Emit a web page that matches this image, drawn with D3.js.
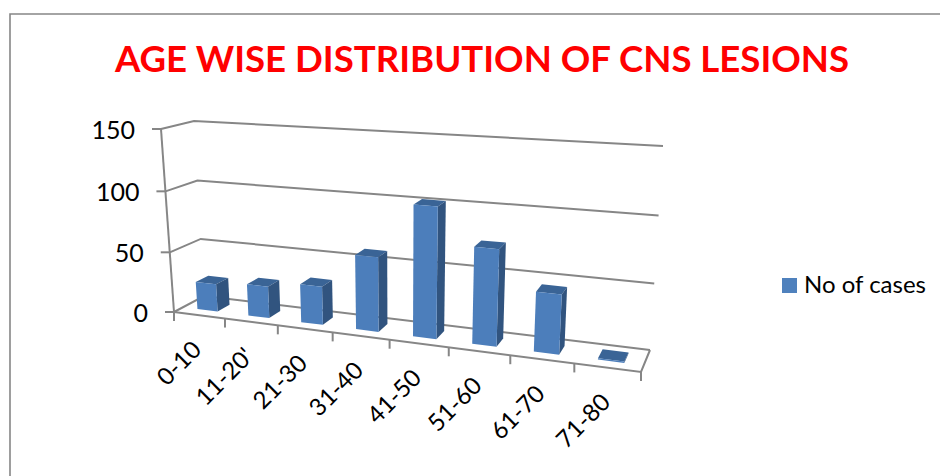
<!DOCTYPE html>
<html>
<head>
<meta charset="utf-8">
<script src="https://cdn.jsdelivr.net/npm/d3@7"></script>
<style>
	body { margin: 0; background: #fff; }
	svg { display: block; }
	text { font-family: Lato, "Open Sans", sans-serif; fill: #000; }
</style>
</head>
<body>
<svg id="chart" width="940" height="476"></svg>
<script>
// Data
const categories = ["0-10", "11-20'", "21-30", "31-40", "41-50", "51-60", "61-70", "71-80"];
const cases = [23, 26, 31, 59, 102, 74, 45, 1];
const valueTicks = [0, 50, 100, 150];
const seriesName = "No of cases";
const titleText = "AGE WISE DISTRIBUTION OF CNS LESIONS";

const svg = d3.select("#chart");

// Corners of the 3D box on screen: [left, right] for front/back at floor/top
const box = {
	frontFloor: [[174, 312], [641, 372]],
	backFloor: [[204, 296], [650, 350]],
	frontTop: [[161, 129], [655, 158]],
	backTop: [[194, 121], [663, 146]]
};
const barFront = 0.3, barBack = 0.72;

const x = d3.scaleBand().domain(categories).range([0, 1]).paddingInner(0.6).paddingOuter(0.29);
const y = d3.scaleLinear().domain([0, 150]).range([0, 1]);

// Perspective stretch, things get bigger to the right and to the top
const warp = (t, k) => t / (k - (k - 1) * t);
const mix = (a, b, t) => [a[0] + (b[0] - a[0]) * t, a[1] + (b[1] - a[1]) * t];

function project(u, depth, value){
	const t = warp(u, 1.166);
	const h = warp(y(value), 1.033);
	const floor = mix(mix(box.frontFloor[0], box.frontFloor[1], t), mix(box.backFloor[0], box.backFloor[1], t), depth);
	const top = mix(mix(box.frontTop[0], box.frontTop[1], t), mix(box.backTop[0], box.backTop[1], t), depth);
	return mix(floor, top, h);
}

const line = d3.line();
const gridColor = "#868686";

// Outer frame of the picture
svg.append("path")
	.attr("d", "M10,476V14H940")
	.attr("fill", "none")
	.attr("stroke", gridColor)
	.attr("stroke-width", 1.6);

// Title
svg.append("text")
	.attr("x", 482)
	.attr("y", 72)
	.attr("text-anchor", "middle")
	.attr("font-size", 36.6)
	.attr("font-weight", 700)
	.style("fill", "#ff0000")
	.text(titleText);

const walls = svg.append("g")
	.attr("fill", "none")
	.attr("stroke", gridColor)
	.attr("stroke-width", 2);

// Gridlines along side wall and back wall, and value tick marks
valueTicks.forEach(v => {
	walls.append("path").attr("d", line([project(0, 0, v), project(0, 1, v), project(1, 1, v)]));
	const p = project(0, 0, v);
	walls.append("path").attr("d", line([[p[0] - 9, p[1]], p]));
});

// Value axis and floor edges
walls.append("path").attr("d", line([project(0, 0, 0), project(0, 0, 150)]));
walls.append("path").attr("d", line([project(0, 0, 0), project(1, 0, 0), project(1, 1, 0)]));

// Category ticks under the front edge
d3.range(categories.length + 1).forEach(i => {
	const p = project(i / categories.length, 0, 0);
	walls.append("path").attr("d", line([p, [p[0], p[1] + 9]]));
});

// Value labels
svg.append("g").selectAll("text")
	.data(valueTicks)
	.enter().append("text")
	.attr("x", d => project(0, 0, d)[0] - 26)
	.attr("y", d => project(0, 0, d)[1] + 10)
	.attr("text-anchor", "end")
	.attr("font-size", 25)
	.text(d => d);

// Category labels
svg.append("g").selectAll("text")
	.data(categories)
	.enter().append("text")
	.attr("transform", d => {
		const p = project(x(d) + x.bandwidth() / 2, 0, 0);
		return "translate(" + (p[0] + 4) + "," + (p[1] + 36) + ") rotate(-45)";
	})
	.attr("text-anchor", "end")
	.attr("font-size", 24)
	.text(d => d);

// Bars, one polygon per visible face
const bars = svg.append("g").selectAll("g")
	.data(categories)
	.enter().append("g");

const face = (i, corners) => line(corners(x(categories[i]), x(categories[i]) + x.bandwidth(), cases[i])) + "Z";

bars.append("path")
	.attr("fill", "#3a6496")
	.attr("d", (d, i) => face(i, (a, b, v) => [project(a, barFront, v), project(b, barFront, v), project(b, barBack, v), project(a, barBack, v)]));
bars.append("path")
	.attr("fill", "#31547f")
	.attr("d", (d, i) => face(i, (a, b, v) => [project(b, barFront, 0), project(b, barBack, 0), project(b, barBack, v), project(b, barFront, v)]));
bars.append("path")
	.attr("fill", "#4c7ebb")
	.attr("d", (d, i) => face(i, (a, b, v) => [project(a, barFront, 0), project(b, barFront, 0), project(b, barFront, v), project(a, barFront, v)]));

// Legend
svg.append("rect")
	.attr("x", 782)
	.attr("y", 278)
	.attr("width", 15)
	.attr("height", 15)
	.attr("fill", "#4f81bd");
svg.append("text")
	.attr("x", 804)
	.attr("y", 293)
	.attr("font-size", 24)
	.text(seriesName);
</script>
</body>
</html>
